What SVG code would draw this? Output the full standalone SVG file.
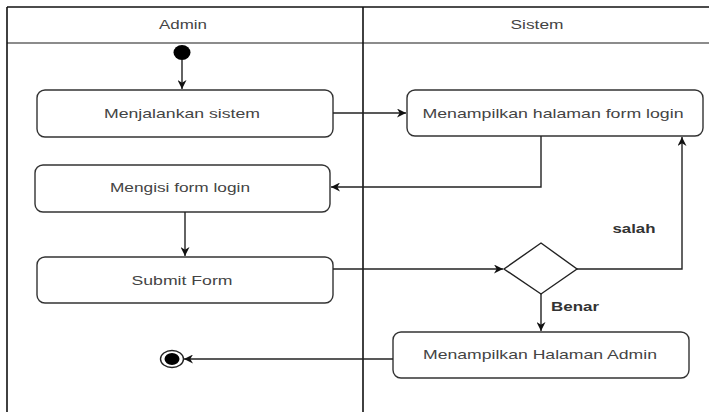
<svg xmlns="http://www.w3.org/2000/svg" width="709" height="412" viewBox="0 0 709 412">
<defs>
<style>
.lane{stroke:#111;stroke-width:1.6;fill:none}
.hdr{stroke:#666;stroke-width:1.6;fill:none}
.box{fill:#fff;stroke:#333;stroke-width:1.4}
.t{font-family:"Liberation Sans",Arial,sans-serif;font-size:13px;fill:#444;text-anchor:middle;dominant-baseline:central}
.b{font-family:"Liberation Sans",Arial,sans-serif;font-size:13px;font-weight:bold;fill:#333;text-anchor:middle;dominant-baseline:central}
.e{fill:none;stroke:#333;stroke-width:1.4}
</style>
<marker id="ah" viewBox="0 0 10 10" refX="10" refY="5" markerWidth="9" markerHeight="9" markerUnits="userSpaceOnUse" orient="auto">
<path d="M0,0 L10,5 L0,10 L3,5 Z" fill="#111"/>
</marker>
</defs>
<rect width="709" height="412" fill="#fff"/>
<g id="lanes">
<line class="lane" x1="7" y1="7" x2="709" y2="7"/>
<line class="hdr" x1="7" y1="43" x2="709" y2="43"/>
<line class="lane" x1="7" y1="7" x2="7" y2="412" stroke-width="2"/>
<line class="lane" x1="363" y1="7" x2="363" y2="412"/>
<text class="t" x="183" y="24" textLength="48" lengthAdjust="spacingAndGlyphs">Admin</text>
<text class="t" x="537" y="24" textLength="53" lengthAdjust="spacingAndGlyphs">Sistem</text>
</g>
<g id="start"><ellipse cx="182" cy="52.5" rx="8.5" ry="7.5" fill="#000"/></g>
<g id="n1"><rect class="box" x="37" y="90" width="296" height="47" rx="8"/><text class="t" x="182" y="113" textLength="156" lengthAdjust="spacingAndGlyphs">Menjalankan sistem</text></g>
<g id="n2"><rect class="box" x="407" y="90" width="296" height="46" rx="8"/><text class="t" x="553" y="113" textLength="261" lengthAdjust="spacingAndGlyphs">Menampilkan halaman form login</text></g>
<g id="n3"><rect class="box" x="35" y="165" width="295" height="47" rx="8"/><text class="t" x="180" y="187" textLength="140" lengthAdjust="spacingAndGlyphs">Mengisi form login</text></g>
<g id="n4"><rect class="box" x="37" y="257" width="296" height="46" rx="8"/><text class="t" x="182" y="280" textLength="101" lengthAdjust="spacingAndGlyphs">Submit Form</text></g>
<g id="decision"><polygon points="541,243 577,269 541,294 504,269" fill="#fff" stroke="#222" stroke-width="1.4"/></g>
<g id="n5"><rect class="box" x="393" y="332" width="296" height="46" rx="8"/><text class="t" x="540" y="354" textLength="234" lengthAdjust="spacingAndGlyphs">Menampilkan Halaman Admin</text></g>
<g id="end"><ellipse cx="172" cy="359" rx="11.5" ry="8.5" fill="#fff" stroke="#222" stroke-width="1.4"/><ellipse cx="172" cy="359" rx="7.5" ry="6" fill="#000"/></g>
<g id="connectors" fill="none" stroke="#222" stroke-width="1.4">
<line x1="182" y1="60" x2="182" y2="89" marker-end="url(#ah)"/>
<line x1="333" y1="113" x2="406" y2="113" marker-end="url(#ah)"/>
<polyline points="541,136 541,187 331,187" marker-end="url(#ah)"/>
<line x1="185" y1="212" x2="185" y2="256" marker-end="url(#ah)"/>
<line x1="333" y1="269" x2="503" y2="269" marker-end="url(#ah)"/>
<polyline points="577,269 682,269 682,137" marker-end="url(#ah)"/>
<line x1="541" y1="294" x2="541" y2="331" marker-end="url(#ah)"/>
<line x1="393" y1="359" x2="184" y2="359" marker-end="url(#ah)"/>
</g>
<g id="labels">
<text class="b" x="634" y="228" textLength="43" lengthAdjust="spacingAndGlyphs">salah</text>
<text class="b" x="575" y="306" textLength="48" lengthAdjust="spacingAndGlyphs">Benar</text>
</g>
</svg>
